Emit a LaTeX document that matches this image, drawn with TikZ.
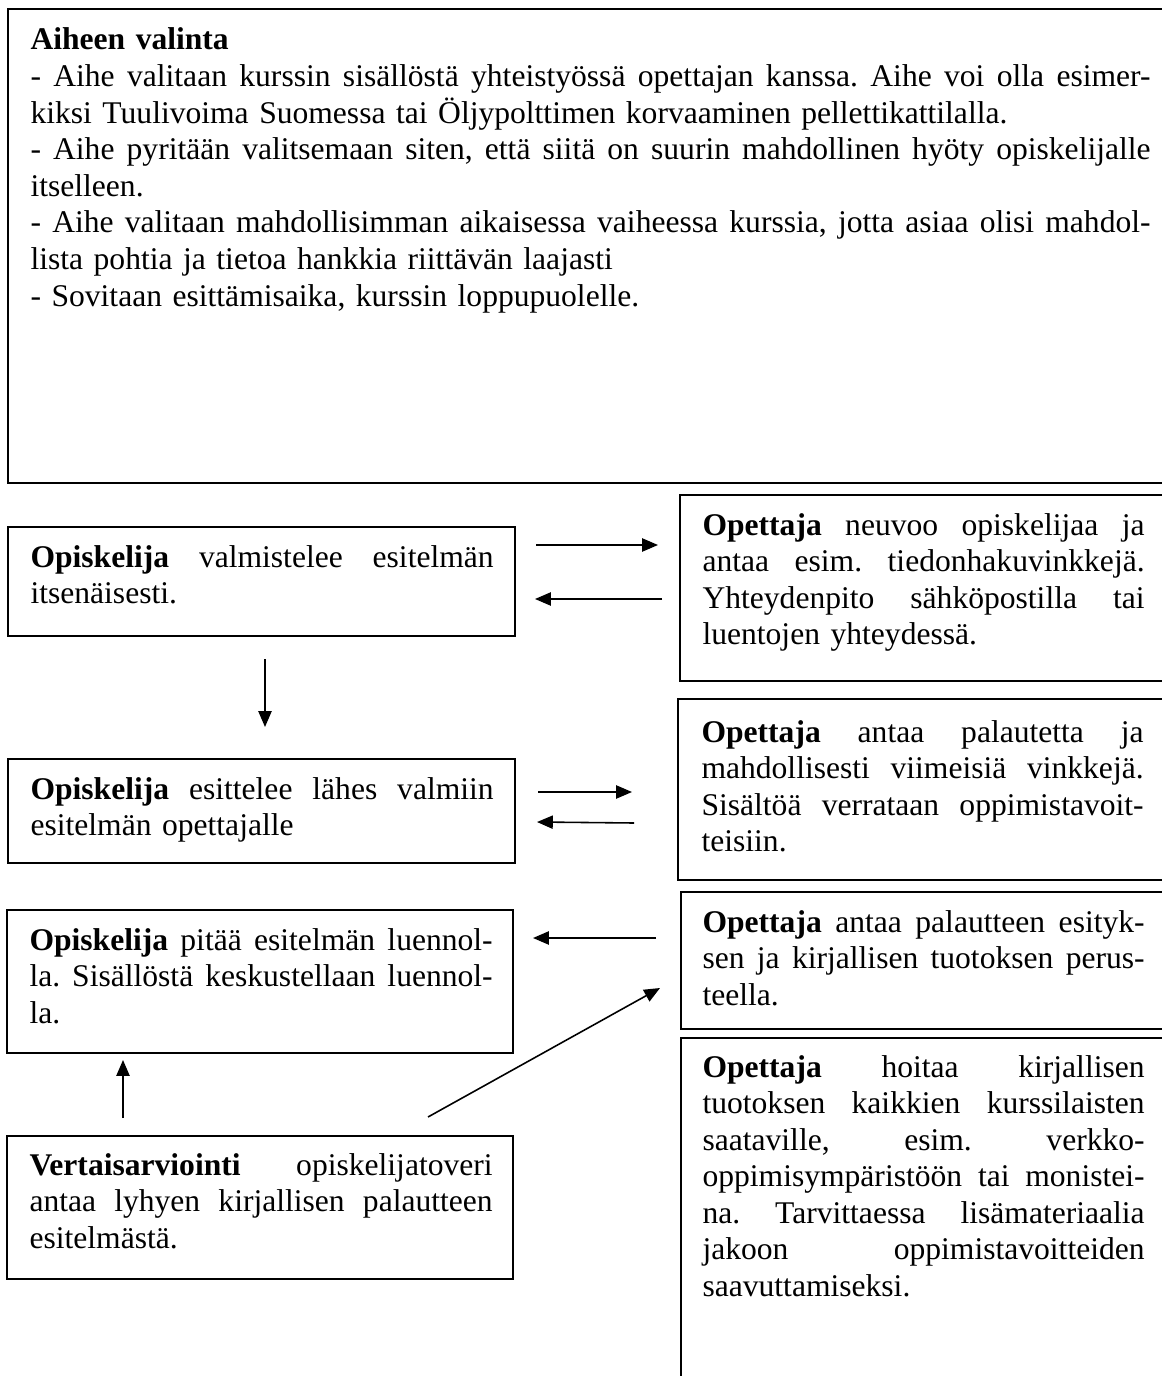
\documentclass[tikz,border=0pt]{standalone}
\usepackage{fontspec}
\setmainfont{Liberation Serif}
\usetikzlibrary{arrows.meta,fit}
\newlength\jw
\newcommand\jline[1]{\leavevmode\hbox to \jw{\spaceskip=0.25em plus 1fil\relax\xspaceskip=\spaceskip #1}}
\begin{document}
\begin{tikzpicture}[x=0.38pt,y=-0.38pt,
  boxs/.style={draw,line width=0.8pt,inner sep=0pt},
  txt/.style={anchor=base west,inner sep=0pt,align=left,font=\fontsize{12pt}{13.9pt}\selectfont\frenchspacing},
  ttxt/.style={txt,text width=425.6pt,execute at begin node={\global\jw=425.6pt}},
  ltxt/.style={txt,text width=176pt,execute at begin node={\global\jw=176pt}},
  rtxt/.style={txt,text width=168pt,execute at begin node={\global\jw=168pt}},
  arr/.style={line width=0.6pt,-{Triangle[length=6pt,width=5pt]}}]
\useasboundingbox (0,0) rectangle (1161,1376);

% boxes
\node[boxs,fit={(8,9)(1175,483)}] (T) {};
\node[boxs,fit={(8,527)(515,636)}] (L1) {};
\node[boxs,fit={(8,759)(515,863)}] (L2) {};
\node[boxs,fit={(7,910)(513,1053)}] (L3) {};
\node[boxs,fit={(7,1136)(513,1279)}] (L4) {};
\node[boxs,fit={(680,495)(1167,681)}] (R1) {};
\node[boxs,fit={(678,699)(1167,880)}] (R2) {};
\node[boxs,fit={(681,892)(1167,1029)}] (R3) {};
\node[boxs,fit={(681,1038)(1167,1400)}] (R4) {};

% texts
\node[ttxt] (Tt) at (30,50) {\textbf{Aiheen valinta}\\
\jline{- Aihe valitaan kurssin sisällöstä yhteistyössä opettajan kanssa. Aihe voi olla esimer-}\\
kiksi Tuulivoima Suomessa tai Öljypolttimen korvaaminen pellettikattilalla.\\
\jline{- Aihe pyritään valitsemaan siten, että siitä on suurin mahdollinen hyöty opiskelijalle}\\
itselleen.\\
\jline{- Aihe valitaan mahdollisimman aikaisessa vaiheessa kurssia, jotta asiaa olisi mahdol-}\\
lista pohtia ja tietoa hankkia riittävän laajasti\\
- Sovitaan esittämisaika, kurssin loppupuolelle.};

\node[ltxt] (L1t) at (30,567) {\jline{\textbf{Opiskelija} valmistelee esitelmän}\\
itsenäisesti.};
\node[ltxt] (L2t) at (30,799) {\jline{\textbf{Opiskelija} esittelee lähes valmiin}\\
esitelmän opettajalle};
\node[ltxt] (L3t) at (29,950) {\jline{\textbf{Opiskelija} pitää esitelmän luennol-}\\
\jline{la. Sisällöstä keskustellaan luennol-}\\
la.};
\node[ltxt] (L4t) at (29,1175) {\jline{\textbf{Vertaisarviointi} opiskelijatoveri}\\
\jline{antaa lyhyen kirjallisen palautteen}\\
esitelmästä.};

\node[rtxt] (R1t) at (702,535) {\jline{\textbf{Opettaja} neuvoo opiskelijaa ja}\\
\jline{antaa esim. tiedonhakuvinkkejä.}\\
\jline{Yhteydenpito sähköpostilla tai}\\
luentojen yhteydessä.};
\node[rtxt] (R2t) at (701,742) {\jline{\textbf{Opettaja} antaa palautetta ja}\\
\jline{mahdollisesti viimeisiä vinkkejä.}\\
\jline{Sisältöä verrataan oppimistavoit-}\\
teisiin.};
\node[rtxt] (R3t) at (702,932) {\jline{\textbf{Opettaja} antaa palautteen esityk-}\\
\jline{sen ja kirjallisen tuotoksen perus-}\\
teella.};
\node[rtxt] (R4t) at (702,1077) {\jline{\textbf{Opettaja} hoitaa kirjallisen}\\
\jline{tuotoksen kaikkien kurssilaisten}\\
\jline{saataville, esim. verkko-}\\
\jline{oppimisympäristöön tai monistei-}\\
\jline{na. Tarvittaessa lisämateriaalia}\\
\jline{jakoon oppimistavoitteiden}\\
saavuttamiseksi.};

% connector end points
\coordinate (a1s) at (536,545);  \coordinate (a1e) at (658,545);
\coordinate (a2s) at (662,599);  \coordinate (a2e) at (535,599);
\coordinate (a3s) at (265,659);  \coordinate (a3e) at (265,727);
\coordinate (a4s) at (538,792);  \coordinate (a4e) at (632,792);
\coordinate (a5s) at (634,823);  \coordinate (a5e) at (537,822);
\coordinate (a6s) at (656,938);  \coordinate (a6e) at (533,938);
\coordinate (a7s) at (123,1118); \coordinate (a7e) at (123,1060);
\coordinate (a8s) at (428,1117); \coordinate (a8e) at (660,988);

\draw[arr] (a1s) -- (a1e);
\draw[arr] (a2s) -- (a2e);
\draw[arr] (a3s) -- (a3e);
\draw[arr] (a4s) -- (a4e);
\draw[arr] (a5s) -- (a5e);
\draw[arr] (a6s) -- (a6e);
\draw[arr] (a7s) -- (a7e);
\draw[arr] (a8s) -- (a8e);
\end{tikzpicture}
\end{document}
